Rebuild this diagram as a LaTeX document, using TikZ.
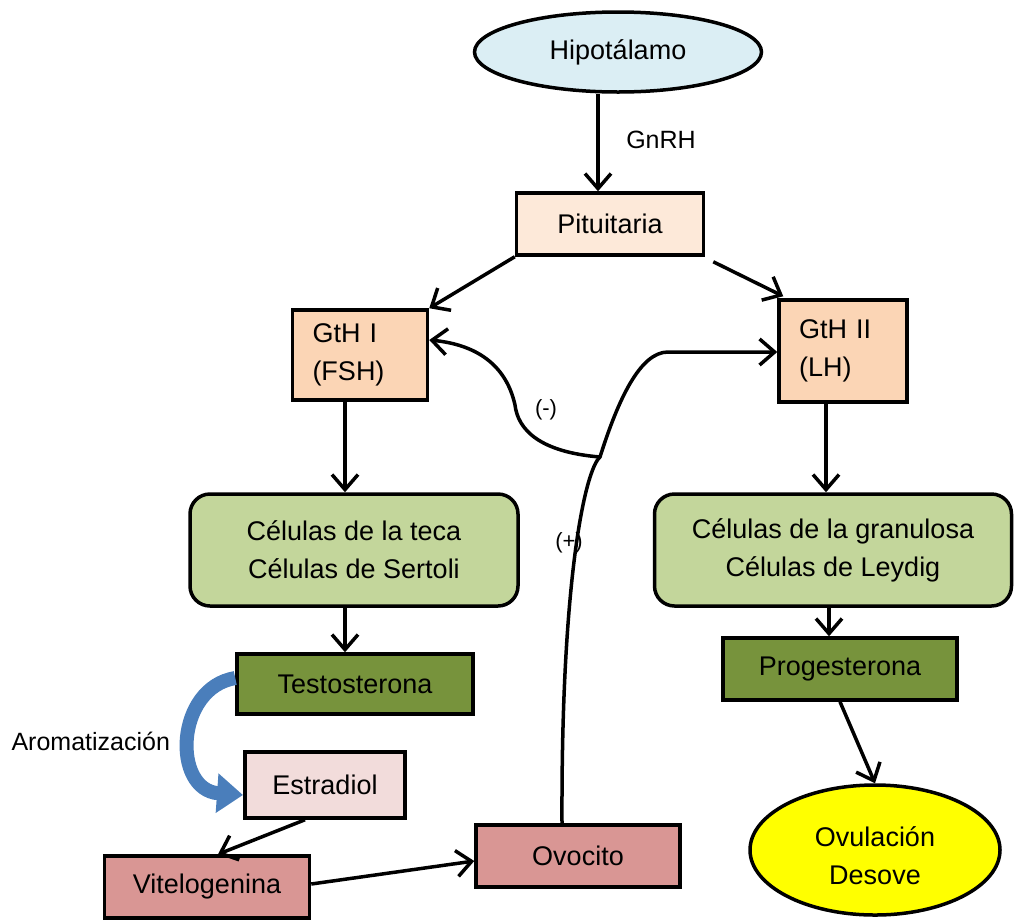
\documentclass[tikz,border=0pt]{standalone}
\usepackage{fontspec}
\setmainfont{Liberation Sans}
\usetikzlibrary{arrows.meta,shapes.geometric}
\definecolor{hipo}{HTML}{DBEEF4}
\definecolor{pitu}{HTML}{FDE9D9}
\definecolor{gth}{HTML}{FBD5B5}
\definecolor{cel}{HTML}{C3D69B}
\definecolor{hormo}{HTML}{77933C}
\definecolor{estra}{HTML}{F2DCDB}
\definecolor{vito}{HTML}{D99694}
\definecolor{ovu}{HTML}{FFFF00}
\definecolor{aroma}{HTML}{4A7EBB}
\begin{document}
\begin{tikzpicture}[x=1pt,y=-1pt,
  every node/.style={font=\fontsize{27}{38}\selectfont, text=black},
  box/.style={draw=black, line width=3.5pt, rectangle, inner sep=0pt, align=center},
  ell/.style={draw=black, line width=3.5pt, ellipse, inner sep=0pt, align=center},
  rbox/.style={box, rounded corners=20pt},
  conn/.style={line width=3.5pt, -{Straight Barb[length=15pt,width=26pt,line width=3.5pt]}},
  lbl/.style={font=\fontsize{25}{30}\selectfont},
  slbl/.style={font=\fontsize{22}{26}\selectfont}]
\useasboundingbox (0,0) rectangle (1014,919);

\node[ell, fill=hipo, minimum width=287pt, minimum height=80pt] (hipo) at (618,52) {Hipotálamo};
\node[box, fill=pitu, minimum width=187pt, minimum height=62pt] (pitu) at (610,224) {Pituitaria};
\node[box, fill=gth, minimum width=135pt, minimum height=90pt, text width=95pt, align=left, inner xsep=20pt] (gth1) at (360,355) {GtH I\\(FSH)};
\node[box, fill=gth, minimum width=128pt, minimum height=102pt, text width=88pt, align=left, inner xsep=20pt] (gth2) at (843,351) {GtH II\\(LH)};
\node[rbox, fill=cel, minimum width=328pt, minimum height=112pt] (teca) at (354,550) {Células de la teca\\Células de Sertoli};
\node[rbox, fill=cel, minimum width=357pt, minimum height=112pt] (gran) at (833,550) {Células de la granulosa\\Células de Leydig};
\node[box, fill=hormo, minimum width=236pt, minimum height=60pt] (testo) at (355,684) {Testosterona};
\node[box, fill=hormo, minimum width=234pt, minimum height=62pt] (proge) at (840,669) {Progesterona};
\node[box, fill=estra, minimum width=160pt, minimum height=66pt] (estra) at (325,785) {Estradiol};
\node[box, fill=vito, minimum width=205pt, minimum height=62pt] (vito) at (207,887) {Vitelogenina};
\node[box, fill=vito, minimum width=204pt, minimum height=62pt] (ovo) at (578,856) {Ovocito};
\node[ell, fill=ovu, minimum width=250pt, minimum height=130pt] (ovu) at (875,850) {\parbox{130pt}{\centering\rule{0pt}{32pt}Ovulación\\Desove}};

% straight connectors
\draw[conn] (hipo.south -| 598,0) -- (pitu.north -| 598,0);
\node[lbl] (gnrh) at (661,140) {GnRH};
\draw[conn] (pitu.south west) -- (gth1.north east);
\draw[conn] (pitu.south east) ++(8,5) coordinate (pse) (pse) -- ([xshift=6pt,yshift=2pt]gth2.north west);
\draw[conn] (gth1.south -| 345,0) -- (teca.north -| 345,0);
\draw[conn] (gth2.south -| 826,0) -- (gran.north -| 826,0);
\draw[conn] (teca.south -| 345,0) -- (testo.north -| 345,0);
\draw[conn] (gran.south -| 829,0) -- (proge.north -| 829,0);
\draw[conn] (proge.south -| 840,0) -- (ovu.north -| 875,0);
\draw[conn] (estra.south -| 305,0) -- (vito.north -| 218,0);
\draw[conn] (vito.east |- 0,884) -- (ovo.west |- 0,861);

% feedback curves
\coordinate (junc) at (600,457);
\draw[conn] (ovo.north -| 562,0) .. controls (561,580) and (585,470) .. (junc)
  .. controls (618,400) and (640,352) .. (668,352) -- (gth2.west |- 0,352);
\draw[conn] (junc) .. controls (540,452) and (518,430) .. (515,405)
  .. controls (505,360) and (470,344) .. (gth1.east |- 0,340);
\node[slbl] (minus) at (546,410) {(-)};
\node[slbl] (plus) at (569,543) {(+)};

% aromatization
\draw[aroma, line width=14pt, -{Triangle[length=26pt,width=38pt]}]
  (testo.west |- 0,678) .. controls (175,688) and (172,790) .. (243,795);
\node[lbl, anchor=west] (arom) at (8,741) {Aromatización};
\end{tikzpicture}
\end{document}
